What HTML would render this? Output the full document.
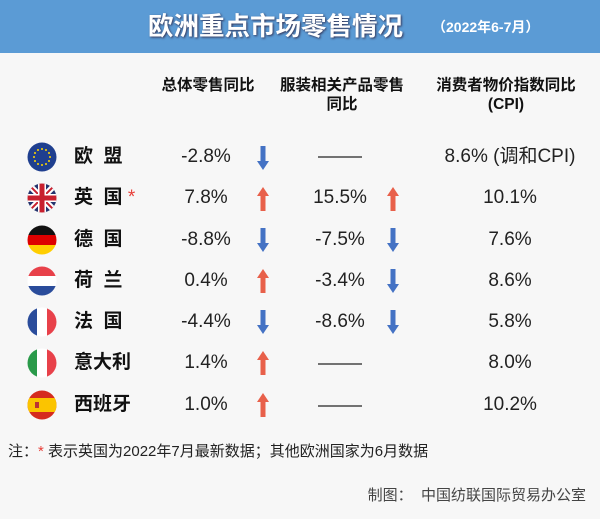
<!DOCTYPE html>
<html><head><meta charset="utf-8"><style>
body{margin:0;width:600px;height:519px;background:#f7f7f7;font-family:"Liberation Sans","Noto Sans CJK SC",sans-serif;position:relative;overflow:hidden}
.hd{position:absolute;left:0;top:0;width:600px;height:53px;background:#5b9bd5}
.t{position:absolute;color:#fff;font-weight:bold;white-space:nowrap}
.h{position:absolute;font-weight:bold;font-size:15.5px;color:#111;text-align:center;line-height:19px;white-space:nowrap}
.c{position:absolute;font-size:19px;color:#222;text-align:center;width:100px;margin-left:-50px;line-height:24px}
.n{position:absolute;font-size:19px;font-weight:bold;color:#111;left:74px;line-height:24px;letter-spacing:0}
</style></head><body>
<div class="hd"></div>
<div class="t" style="left:148px;top:12px;font-size:25.5px;line-height:30px;text-shadow:1px 1px 2px #335">欧洲重点市场零售情况</div>
<div class="t" style="left:432px;top:18px;font-size:14px;line-height:18px">（2022年6-7月）</div>
<div class="h" style="left:148px;top:76px;width:120px">总体零售同比</div>
<div class="h" style="left:262px;top:76px;width:160px">服装相关产品零售<br>同比</div>
<div class="h" style="left:421px;top:76px;width:170px">消费者物价指数同比<br>(CPI)</div>

<svg width="600" height="519" style="position:absolute;left:0;top:0">
<defs>
<clipPath id="cp"><circle cx="15" cy="15" r="14.5"/></clipPath>
<g id="dn"><rect x="-2.5" y="-12" width="5" height="16" fill="#4472c4"/><polygon points="-6,3 6,3 0,12" fill="#4472c4"/></g>
<g id="up"><rect x="-2.5" y="-4" width="5" height="16" fill="#e8604a"/><polygon points="-6,-3 6,-3 0,-12" fill="#e8604a"/></g>
</defs>
<g transform="translate(27,142)" clip-path="url(#cp)"><rect width="30" height="30" fill="#1f3f8f"/>
<g fill="#ffd700"><circle cx="15" cy="7" r="1"/><circle cx="19" cy="8" r="1"/><circle cx="22" cy="11" r="1"/><circle cx="23" cy="15" r="1"/><circle cx="22" cy="19" r="1"/><circle cx="19" cy="22" r="1"/><circle cx="15" cy="23" r="1"/><circle cx="11" cy="22" r="1"/><circle cx="8" cy="19" r="1"/><circle cx="7" cy="15" r="1"/><circle cx="8" cy="11" r="1"/><circle cx="11" cy="8" r="1"/></g></g>
<g transform="translate(27,183)" clip-path="url(#cp)"><rect width="30" height="30" fill="#24346e"/>
<path d="M0 0L30 30M30 0L0 30" stroke="#fff" stroke-width="6"/><path d="M0 0L30 30M30 0L0 30" stroke="#c8202e" stroke-width="2"/>
<rect x="11" width="8" height="30" fill="#fff"/><rect y="11" width="30" height="8" fill="#fff"/>
<rect x="12.5" width="5" height="30" fill="#c8202e"/><rect y="12.5" width="30" height="5" fill="#c8202e"/></g>
<g transform="translate(27,225)" clip-path="url(#cp)"><rect width="30" height="10" fill="#111"/><rect y="10" width="30" height="10" fill="#dd0000"/><rect y="20" width="30" height="10" fill="#ffce00"/></g>
<g transform="translate(27,266)" clip-path="url(#cp)"><rect width="30" height="10" fill="#e8414a"/><rect y="10" width="30" height="10" fill="#fff"/><rect y="20" width="30" height="10" fill="#2a4c9b"/></g>
<g transform="translate(27,307)" clip-path="url(#cp)"><rect width="10" height="30" fill="#2a4c9b"/><rect x="10" width="10" height="30" fill="#fff"/><rect x="20" width="10" height="30" fill="#e8414a"/></g>
<g transform="translate(27,348)" clip-path="url(#cp)"><rect width="10" height="30" fill="#2a9a4a"/><rect x="10" width="10" height="30" fill="#fff"/><rect x="20" width="10" height="30" fill="#e8414a"/></g>
<g transform="translate(27,390)" clip-path="url(#cp)"><rect width="30" height="30" fill="#d52b1e"/><rect y="8" width="30" height="14" fill="#fbc400"/><rect x="8" y="12" width="4" height="6" fill="#b33"/></g>
<use href="#dn" x="263" y="158"/><use href="#up" x="263" y="199"/><use href="#dn" x="263" y="240"/><use href="#up" x="263" y="281"/><use href="#dn" x="263" y="322"/><use href="#up" x="263" y="363"/><use href="#up" x="263" y="405"/>
<use href="#up" x="393" y="199"/><use href="#dn" x="393" y="240"/><use href="#dn" x="393" y="281"/><use href="#dn" x="393" y="322"/>
<g stroke="#222" stroke-width="1.2"><line x1="318" y1="157" x2="362" y2="157"/><line x1="318" y1="364" x2="362" y2="364"/><line x1="318" y1="406" x2="362" y2="406"/></g>
</svg>

<div class="n" style="top:145px">欧&nbsp;&nbsp;盟</div>
<div class="n" style="top:186px">英&nbsp;&nbsp;国 <span style="color:#e8403a;font-weight:normal">*</span></div>
<div class="n" style="top:228px">德&nbsp;&nbsp;国</div>
<div class="n" style="top:269px">荷&nbsp;&nbsp;兰</div>
<div class="n" style="top:310px">法&nbsp;&nbsp;国</div>
<div class="n" style="top:351px">意大利</div>
<div class="n" style="top:393px">西班牙</div>

<div class="c" style="left:206px;top:145px">-2.8%</div>
<div class="c" style="left:206px;top:186px">7.8%</div>
<div class="c" style="left:206px;top:228px">-8.8%</div>
<div class="c" style="left:206px;top:269px">0.4%</div>
<div class="c" style="left:206px;top:310px">-4.4%</div>
<div class="c" style="left:206px;top:351px">1.4%</div>
<div class="c" style="left:206px;top:393px">1.0%</div>

<div class="c" style="left:340px;top:186px">15.5%</div>
<div class="c" style="left:340px;top:228px">-7.5%</div>
<div class="c" style="left:340px;top:269px">-3.4%</div>
<div class="c" style="left:340px;top:310px">-8.6%</div>

<div class="c" style="left:510px;top:145px;width:160px;margin-left:-80px">8.6% (调和CPI)</div>
<div class="c" style="left:510px;top:186px">10.1%</div>
<div class="c" style="left:510px;top:228px">7.6%</div>
<div class="c" style="left:510px;top:269px">8.6%</div>
<div class="c" style="left:510px;top:310px">5.8%</div>
<div class="c" style="left:510px;top:351px">8.0%</div>
<div class="c" style="left:510px;top:393px">10.2%</div>

<div style="position:absolute;left:8px;top:440px;font-size:15px;color:#222">注：<span style="color:#e8403a">*</span> 表示英国为2022年7月最新数据；其他欧洲国家为6月数据</div>
<div style="position:absolute;right:14px;top:484px;font-size:15px;color:#444">制图：&nbsp;&nbsp;中国纺联国际贸易办公室</div>
</body></html>
